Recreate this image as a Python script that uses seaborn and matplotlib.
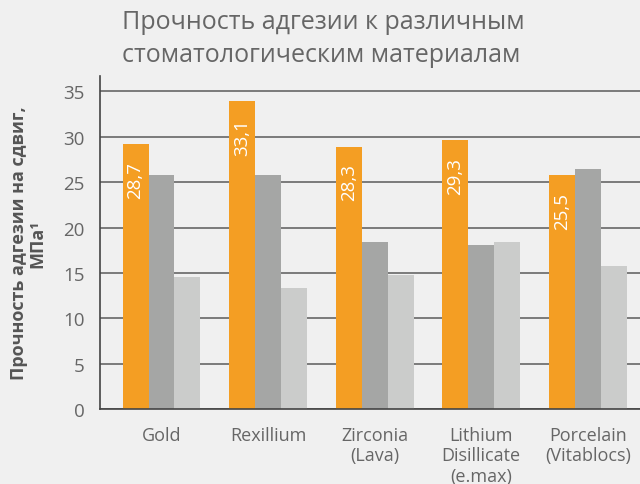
import numpy as np
import pandas as pd
import matplotlib
matplotlib.use("Agg")
import matplotlib.pyplot as plt
import seaborn as sns

# data
materials = ["Gold", "Rexillium", "Zirconia\n(Lava)", "Lithium\nDisillicate\n(e.max)", "Porcelain\n(Vitablocs)"]
series_names = ["s1", "s2", "s3"]
orange_vals = [29.2, 33.9, 28.9, 29.6, 25.8]
dark_vals = [25.8, 25.8, 18.4, 18.1, 26.5]
light_vals = [14.5, 13.35, 14.75, 18.4, 15.8]
orange_labels = ["28,7", "33,1", "28,3", "29,3", "25,5"]

colors = ["#F49E23", "#A5A6A5", "#CBCCCB"]
bg = "#F0F0F0"
txt = "#666666"

df = pd.DataFrame({
    "material": materials * 3,
    "series": np.repeat(series_names, len(materials)),
    "value": orange_vals + dark_vals + light_vals,
})

sns.set_style("white")
plt.rcParams["font.family"] = ["Open Sans", "DejaVu Sans"]

fig = plt.figure(figsize=(6.4, 4.85), dpi=100, facecolor=bg)
ax = fig.add_axes([100 / 640, 75 / 485, 540 / 640, 333 / 485])
ax.set_facecolor(bg)

sns.barplot(data=df, x="material", y="value", hue="series", palette=colors,
            width=0.73, saturation=1, legend=False, linewidth=0, ax=ax)

ax.set_ylim(0, 36.7)
ax.set_xlim(-0.577, 4.49)
ax.set_yticks(range(0, 36, 5))
ax.yaxis.grid(True, color="#7A7A7A", linewidth=1.4)
ax.set_axisbelow(True)
for s in ["top", "right"]:
    ax.spines[s].set_visible(False)
ax.spines["left"].set_color("#444444")
ax.spines["bottom"].set_color("#444444")
ax.spines["left"].set_linewidth(1.2)
ax.spines["bottom"].set_linewidth(1.2)
ax.tick_params(axis="y", length=0, pad=11, labelsize=13.5, labelcolor=txt)
ax.tick_params(axis="x", length=0, pad=12, labelsize=13, labelcolor=txt)
for lab in ax.get_xticklabels():
    lab.set_linespacing(1.2)
    lab.set_va("top")

ax.set_xlabel("")
ax.set_ylabel("Прочность адгезии на сдвиг,\nМПа¹", fontsize=13, fontweight="bold",
              color="#555555", labelpad=12, linespacing=1.05)

# value labels inside the orange bars
orange_bars = ax.containers[0]
for bar, lab in zip(orange_bars, orange_labels):
    x = bar.get_x() + bar.get_width() / 2
    ax.annotate(lab, (x, bar.get_height()), xytext=(0, -12), textcoords="offset points",
                ha="center", va="top", rotation=90, color="white", fontsize=13.5)

fig.text(122 / 640, 1 - 10 / 485, "Прочность адгезии к различным\nстоматологическим материалам",
         ha="left", va="top", fontsize=18, color=txt, linespacing=1.4)

fig.savefig("out.png", dpi=100, facecolor=bg)
